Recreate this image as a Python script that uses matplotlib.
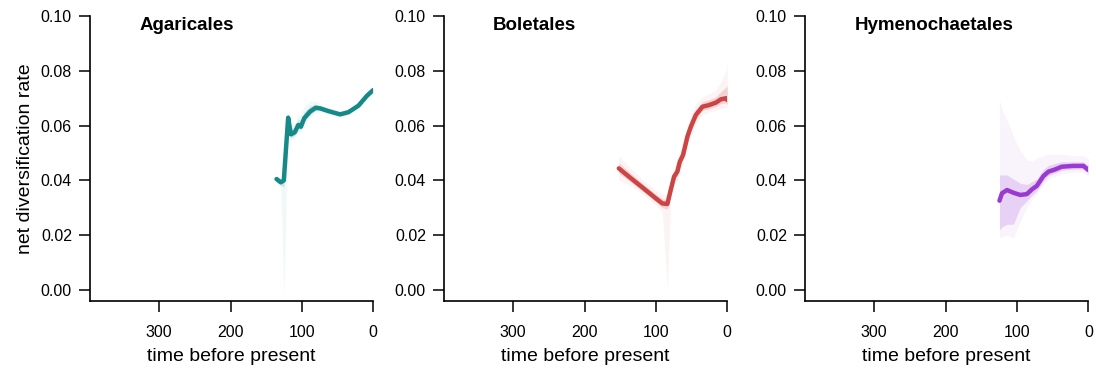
import matplotlib
matplotlib.use("Agg")
import matplotlib.pyplot as plt

plt.rcParams["font.family"] = ["Liberation Sans", "DejaVu Sans"]

# Agaricales: time before present, mean net diversification rate, bands
aga_t = [135.6, 129.6, 125.4, 119.3, 115.5, 109.9, 105.2, 101.4, 96.8, 92.0,
         88.7, 80.7, 74.6, 63.0, 46.5, 34.8, 20.7, 8.9, 0.0]
aga_rate = [0.0405, 0.0393, 0.0400, 0.0629, 0.0568, 0.0576, 0.0602, 0.0596,
            0.0627, 0.0641, 0.0651, 0.0665, 0.0663, 0.0653, 0.0641, 0.0649,
            0.0673, 0.0709, 0.0730]
aga_lo = [0.0390, 0.0375, -0.0030, 0.0590, 0.0545, 0.0555, 0.0580, 0.0575,
          0.0605, 0.0620, 0.0632, 0.0650, 0.0650, 0.0642, 0.0632, 0.0640,
          0.0663, 0.0698, 0.0720]
aga_hi = [0.0420, 0.0410, 0.0420, 0.0660, 0.0600, 0.0610, 0.0640, 0.0640,
          0.0670, 0.0680, 0.0690, 0.0690, 0.0680, 0.0666, 0.0652, 0.0660,
          0.0685, 0.0720, 0.0740]
aga_lo50 = [0.0395, 0.0383, 0.0375, 0.0610, 0.0555, 0.0565, 0.0590, 0.0585,
            0.0615, 0.0630, 0.0640, 0.0657, 0.0656, 0.0647, 0.0636, 0.0644,
            0.0668, 0.0703, 0.0725]
aga_hi50 = [0.0415, 0.0403, 0.0412, 0.0645, 0.0585, 0.0595, 0.0622, 0.0620,
            0.0650, 0.0662, 0.0672, 0.0678, 0.0671, 0.0660, 0.0647, 0.0655,
            0.0679, 0.0715, 0.0735]

# Boletales
bol_t = [152.0, 138.0, 119.3, 100.4, 91.1, 84.0, 79.3, 74.6, 70.0, 66.6,
         62.0, 55.9, 51.1, 44.1, 34.8, 25.4, 15.9, 8.9, 1.8, 0.0]
bol_rate = [0.0444, 0.0414, 0.0375, 0.0335, 0.0316, 0.0314, 0.0365, 0.0414,
            0.0432, 0.0468, 0.0493, 0.0560, 0.0596, 0.0639, 0.0669, 0.0675,
            0.0684, 0.0696, 0.0700, 0.0693]
bol_lo = [0.0400, 0.0385, 0.0350, 0.0310, 0.0285, 0.0000, 0.0330, 0.0385,
          0.0400, 0.0435, 0.0460, 0.0525, 0.0560, 0.0605, 0.0640, 0.0650,
          0.0655, 0.0665, 0.0665, 0.0660]
bol_hi = [0.0490, 0.0450, 0.0405, 0.0365, 0.0350, 0.0345, 0.0400, 0.0450,
          0.0470, 0.0505, 0.0535, 0.0600, 0.0640, 0.0680, 0.0705, 0.0715,
          0.0730, 0.0760, 0.0800, 0.0830]
bol_lo50 = [0.0425, 0.0400, 0.0362, 0.0322, 0.0300, 0.0295, 0.0348, 0.0400,
            0.0416, 0.0452, 0.0477, 0.0543, 0.0578, 0.0622, 0.0655, 0.0662,
            0.0670, 0.0680, 0.0683, 0.0677]
bol_hi50 = [0.0465, 0.0432, 0.0390, 0.0350, 0.0333, 0.0330, 0.0382, 0.0432,
            0.0451, 0.0486, 0.0514, 0.0580, 0.0618, 0.0660, 0.0687, 0.0695,
            0.0705, 0.0725, 0.0740, 0.0745]

# Hymenochaetales
hym_t = [124.5, 121.0, 114.0, 104.9, 95.5, 86.2, 79.2, 72.2, 62.9, 55.9,
         46.6, 37.2, 21.0, 7.0, 0.0]
hym_rate = [0.0326, 0.0353, 0.0365, 0.0355, 0.0347, 0.0350, 0.0367, 0.0380,
            0.0416, 0.0432, 0.0440, 0.0450, 0.0453, 0.0453, 0.0438]
hym_lo = [0.0190, 0.0195, 0.0200, 0.0190, 0.0250, 0.0300, 0.0330, 0.0350,
          0.0385, 0.0405, 0.0415, 0.0425, 0.0430, 0.0430, 0.0415]
hym_hi = [0.0690, 0.0660, 0.0620, 0.0560, 0.0510, 0.0475, 0.0470, 0.0480,
          0.0490, 0.0495, 0.0495, 0.0495, 0.0490, 0.0490, 0.0480]
hym_lo50 = [0.0220, 0.0230, 0.0240, 0.0240, 0.0300, 0.0325, 0.0345, 0.0362,
            0.0398, 0.0418, 0.0427, 0.0437, 0.0441, 0.0441, 0.0426]
hym_hi50 = [0.0420, 0.0420, 0.0420, 0.0405, 0.0390, 0.0385, 0.0395, 0.0405,
            0.0440, 0.0455, 0.0462, 0.0468, 0.0468, 0.0468, 0.0455]

clades = ["Agaricales", "Boletales", "Hymenochaetales"]
colors = ["#168a88", "#cc4545", "#9a3ad0"]
series = [(aga_t, aga_rate, aga_lo, aga_hi, aga_lo50, aga_hi50),
          (bol_t, bol_rate, bol_lo, bol_hi, bol_lo50, bol_hi50),
          (hym_t, hym_rate, hym_lo, hym_hi, hym_lo50, hym_hi50)]

fig = plt.figure(figsize=(10.96, 3.71), dpi=100)
lefts = [0.0821, 0.4051, 0.7345]

for i, (name, col, (t, r, lo, hi, lo50, hi50)) in enumerate(zip(clades, colors, series)):
    ax = fig.add_axes([lefts[i], 0.1887, 0.2585, 0.7682])
    # faint outer band, then a tighter inner band
    ax.fill_between(t, lo, hi, color=col, alpha=0.06, lw=0)
    ax.fill_between(t, lo50, hi50, color=col, alpha=0.18, lw=0)
    ax.plot(t, r, color=col, lw=3.2, solid_capstyle="round")

    ax.set_xlim(397, 0)
    ax.set_ylim(-0.004, 0.10)
    ax.set_xticks([300, 200, 100, 0])
    ax.set_yticks([0.0, 0.02, 0.04, 0.06, 0.08, 0.10])
    ax.set_yticklabels(["0.00", "0.02", "0.04", "0.06", "0.08", "0.10"])
    for s in ["top", "right"]:
        ax.spines[s].set_visible(False)
    for s in ["left", "bottom"]:
        ax.spines[s].set_linewidth(1.2)
    ax.tick_params(direction="out", length=8, width=1.1, labelsize=11.5)
    ax.tick_params(axis="x", pad=9)
    ax.tick_params(axis="y", pad=5)
    ax.set_xlabel("time before present", fontsize=14, labelpad=6)
    if i == 0:
        ax.set_ylabel("net diversification rate", fontsize=14, labelpad=5)
    ax.text(328, 0.0967, name, ha="left", va="center",
            fontsize=13.5, fontweight="bold")

fig.savefig("out.png", dpi=100)
